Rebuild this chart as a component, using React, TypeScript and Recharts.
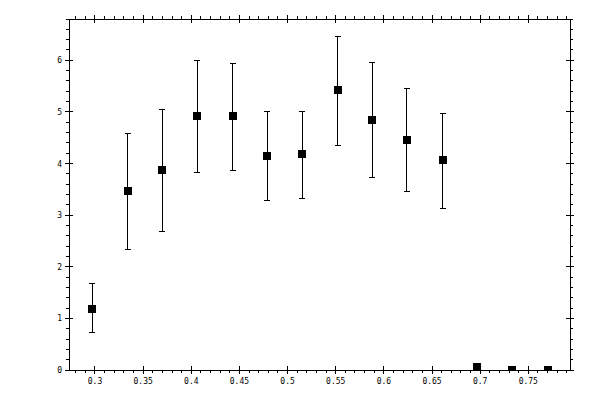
import { ScatterChart, Scatter, XAxis, YAxis, ErrorBar } from 'recharts'

const binCenters = [0.297, 0.334, 0.370, 0.406, 0.443, 0.479, 0.515, 0.552, 0.588, 0.624, 0.661, 0.697, 0.733, 0.770]
const means = [1.19, 3.46, 3.87, 4.92, 4.92, 4.14, 4.18, 5.42, 4.84, 4.45, 4.06, 0.06, 0.0, 0.0]
const lows = [0.73, 2.34, 2.69, 3.83, 3.87, 3.29, 3.33, 4.35, 3.73, 3.46, 3.13, 0.06, 0.0, 0.0]
const highs = [1.67, 4.58, 5.05, 6.0, 5.94, 5.01, 5.01, 6.46, 5.96, 5.46, 4.97, 0.06, 0.0, 0.0]

const xDomain = [0.273, 0.7933]
const yDomain = [0, 6.8]

// ticks every 0.01 on x, every 0.2 on y; majors every 0.05 / 1
const xTicks: number[] = []
for (let i = 28; i <= 79; i++) xTicks.push(i / 100)
const yTicks: number[] = []
for (let i = 0; i <= 34; i++) yTicks.push(i / 5)

const isMajorX = (v: number) => Math.abs(v * 20 - Math.round(v * 20)) < 1e-6
const isMajorY = (v: number) => Math.abs(v - Math.round(v)) < 1e-6

const data = binCenters.map((x, i) => ({
  x,
  y: means[i],
  err: [means[i] - lows[i], highs[i] - means[i]],
}))

const font = { fontFamily: 'DejaVu Sans Mono', fontSize: 8, fill: '#000' }
const crisp = { stroke: '#000', shapeRendering: 'crispEdges' as const }

function BottomTick({ x, y, payload }: any) {
  const v = payload.value
  if (!isMajorX(v)) return <line x1={x} x2={x} y1={y} y2={y + 3} {...crisp} />
  return (
    <g>
      <line x1={x} x2={x} y1={y - 4} y2={y + 4} {...crisp} />
      <text x={x} y={y + 14} textAnchor="middle" {...font}>{String(Math.round(v * 100) / 100)}</text>
    </g>
  )
}

function TopTick({ x, y, payload }: any) {
  if (!isMajorX(payload.value)) return <line x1={x} x2={x} y1={y - 3} y2={y} {...crisp} />
  return <line x1={x} x2={x} y1={y - 4} y2={y + 4} {...crisp} />
}

function LeftTick({ x, y, payload }: any) {
  const v = payload.value
  if (!isMajorY(v)) return <line x1={x - 3} x2={x} y1={y} y2={y} {...crisp} />
  return (
    <g>
      <line x1={x - 4} x2={x + 4} y1={y} y2={y} {...crisp} />
      <text x={x - 7} y={y + 3} textAnchor="end" {...font}>{String(Math.round(v))}</text>
    </g>
  )
}

function RightTick({ x, y, payload }: any) {
  if (!isMajorY(payload.value)) return <line x1={x} x2={x + 3} y1={y} y2={y} {...crisp} />
  return <line x1={x - 4} x2={x + 4} y1={y} y2={y} {...crisp} />
}

function SquareMarker({ cx, cy }: any) {
  return <rect x={cx - 4} y={cy - 4} width={8} height={8} fill="#000" shapeRendering="crispEdges" />
}

const NoMarker = () => <g />

export default function App() {
  return (
    <div style={{ position: 'absolute', left: 0, top: 0, width: 600, height: 400, background: '#fff' }}>
      <ScatterChart width={600} height={400} margin={{ top: 18, right: 29, bottom: 0, left: 0 }}>
        <XAxis
          type="number"
          dataKey="x"
          domain={xDomain}
          allowDataOverflow
          ticks={xTicks}
          interval={0}
          tick={BottomTick}
          tickLine={false}
          tickSize={0}
          tickMargin={0}
          height={30}
          axisLine={crisp}
        />
        <XAxis
          xAxisId="top"
          orientation="top"
          type="number"
          dataKey="x"
          domain={xDomain}
          allowDataOverflow
          ticks={xTicks}
          interval={0}
          tick={TopTick}
          tickLine={false}
          tickSize={0}
          tickMargin={0}
          height={1}
          axisLine={crisp}
        />
        <YAxis
          type="number"
          dataKey="y"
          domain={yDomain}
          allowDataOverflow
          ticks={yTicks}
          interval={0}
          tick={LeftTick}
          tickLine={false}
          tickSize={0}
          tickMargin={0}
          width={69}
          axisLine={crisp}
        />
        <YAxis
          yAxisId="right"
          orientation="right"
          type="number"
          dataKey="y"
          domain={yDomain}
          allowDataOverflow
          ticks={yTicks}
          interval={0}
          tick={RightTick}
          tickLine={false}
          tickSize={0}
          tickMargin={0}
          width={1}
          axisLine={crisp}
        />
        <Scatter data={data} shape={SquareMarker} isAnimationActive={false}>
          <ErrorBar
            dataKey="err"
            direction="y"
            width={3}
            stroke="#000"
            strokeWidth={1}
            shapeRendering="crispEdges"
            isAnimationActive={false}
          />
        </Scatter>
        <Scatter data={data} xAxisId="top" yAxisId="right" shape={NoMarker} isAnimationActive={false} />
      </ScatterChart>
    </div>
  )
}
